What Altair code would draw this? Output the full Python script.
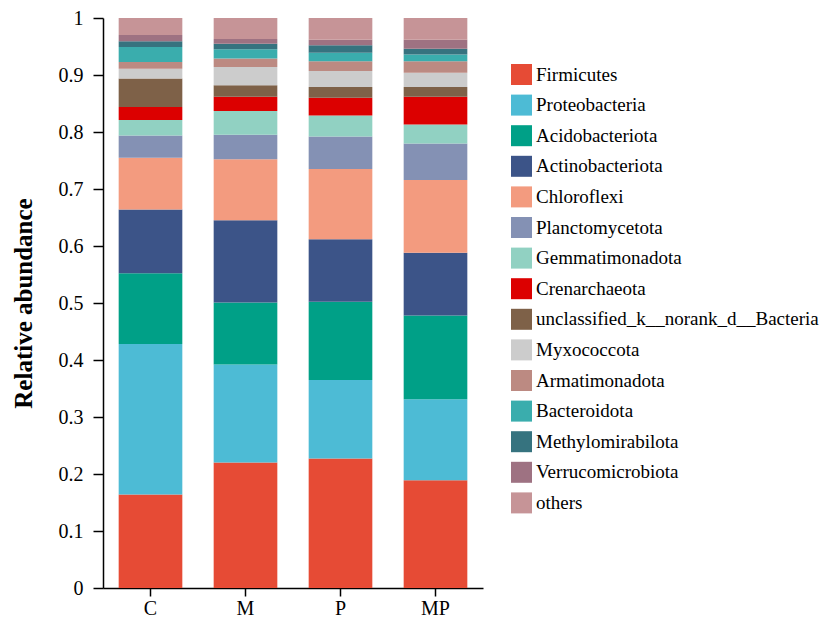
import altair as alt
import pandas as pd

groups = ["C", "M", "P", "MP"]
taxa = ["Firmicutes", "Proteobacteria", "Acidobacteriota", "Actinobacteriota",
        "Chloroflexi", "Planctomycetota", "Gemmatimonadota", "Crenarchaeota",
        "unclassified_k__norank_d__Bacteria", "Myxococcota", "Armatimonadota",
        "Bacteroidota", "Methylomirabilota", "Verrucomicrobiota", "others"]
colors = ["#E64B35", "#4DBBD5", "#00A087", "#3C5488", "#F39B7F", "#8491B4",
          "#91D1C2", "#DC0000", "#7E6148", "#CCCCCC", "#BC8A82", "#3AADAD",
          "#36737F", "#9E7282", "#C69497"]

values_C = [0.164, 0.264, 0.124, 0.112, 0.091, 0.039, 0.027, 0.023, 0.050, 0.017, 0.012, 0.026, 0.010, 0.011, 0.030]
values_M = [0.220, 0.172, 0.109, 0.144, 0.107, 0.043, 0.042, 0.025, 0.020, 0.032, 0.015, 0.016, 0.010, 0.008, 0.037]
values_P = [0.227, 0.138, 0.137, 0.110, 0.123, 0.057, 0.037, 0.031, 0.019, 0.028, 0.017, 0.015, 0.013, 0.010, 0.038]
values_MP = [0.189, 0.142, 0.147, 0.110, 0.128, 0.064, 0.033, 0.049, 0.017, 0.025, 0.020, 0.012, 0.010, 0.016, 0.038]

rows = []
for g, vals in zip(groups, [values_C, values_M, values_P, values_MP]):
    for i, (t, v) in enumerate(zip(taxa, vals)):
        rows.append({"group": g, "taxon": t, "value": v, "idx": i})
df = pd.DataFrame(rows)

font = "Liberation Serif"

chart = alt.Chart(df).mark_bar().encode(
    x=alt.X("group:N", sort=groups, title=None,
            scale=alt.Scale(paddingInner=0.33, paddingOuter=0.165),
            axis=alt.Axis(labelAngle=0, labelFontSize=20, labelFont=font,
                          labelColor="black", tickColor="black", domainColor="black",
                          tickSize=8, domainWidth=1.5, tickWidth=1.5, labelPadding=2)),
    y=alt.Y("value:Q", stack="zero", title="Relative abundance",
            scale=alt.Scale(domain=[0, 1], nice=False),
            axis=alt.Axis(values=[0, 0.1, 0.2, 0.3, 0.4, 0.5, 0.6, 0.7, 0.8, 0.9, 1.0],
                          labelExpr="datum.value == 0 ? '0' : datum.value == 1 ? '1' : format(datum.value, '.1f')",
                          labelFontSize=20, labelFont=font, labelColor="black",
                          tickColor="black", domainColor="black", tickSize=10,
                          domainWidth=1.5, tickWidth=1.5, grid=False, labelPadding=10,
                          titleFont=font, titleFontSize=25, titleFontWeight="bold",
                          titleColor="black", titlePadding=22)),
    color=alt.Color("taxon:N", sort=taxa,
                    scale=alt.Scale(domain=taxa, range=colors),
                    legend=alt.Legend(title=None, orient="none", legendX=408, legendY=46,
                                      symbolType="square", symbolSize=441,
                                      symbolStrokeWidth=0, labelFont=font,
                                      labelFontSize=19, labelColor="black",
                                      rowPadding=9.6, labelOffset=4, padding=0,
                                      labelLimit=400)),
    order=alt.Order("idx:Q", sort="ascending"),
).properties(
    width=380, height=570,
    autosize=alt.AutoSizeParams(type="none"),
    padding={"left": 95, "top": 10, "right": 339, "bottom": 30},
).configure(background="white").configure_view(stroke=None)

chart.save("out.html", embed_options={"renderer": "svg", "actions": False})
